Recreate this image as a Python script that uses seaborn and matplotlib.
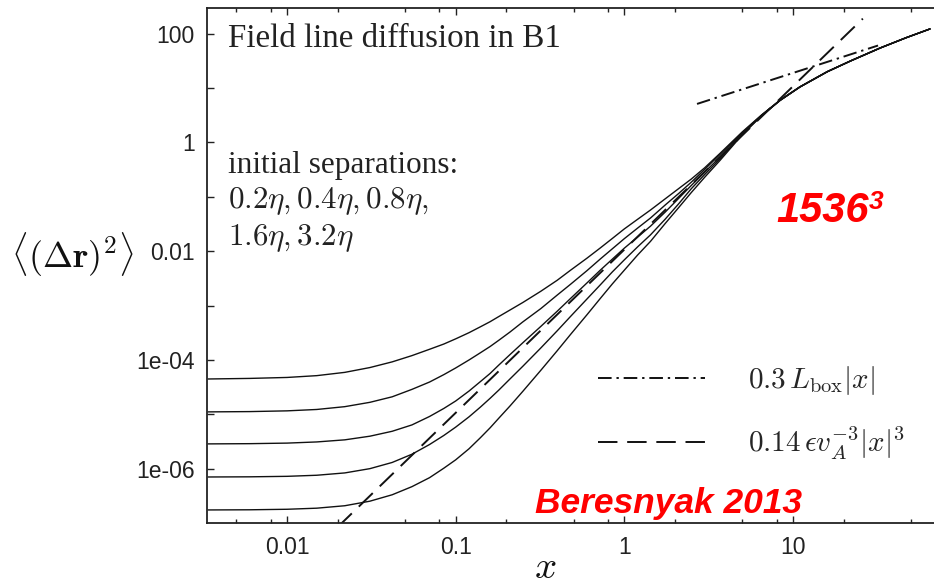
import matplotlib
matplotlib.use("Agg")
import matplotlib.pyplot as plt
from matplotlib.ticker import FixedLocator, FixedFormatter, LogLocator, NullLocator, NullFormatter
import pandas as pd
import seaborn as sns

# distance along the mean field, shared by every separation curve
x_vals = [0.0034, 0.006, 0.01, 0.015, 0.022, 0.031, 0.042, 0.055, 0.07, 0.085,
          0.1, 0.12, 0.14, 0.16, 0.18, 0.21, 0.25, 0.32, 0.4, 0.48,
          0.6, 0.72, 0.85, 1.0, 1.2, 1.43, 1.75, 2.1, 2.5, 3.0,
          3.7, 5.0, 6.5, 8.4, 11, 16, 22, 33, 47, 65]

# mean squared separation for each initial separation
msd_3p2 = [4.48e-5, 4.59e-5, 4.78e-5, 5.16e-5, 5.93e-5, 7.27e-5, 9.24e-5, 1.204e-4, 1.575e-4, 1.965e-4,
           2.448e-4, 3.18e-4, 4.07e-4, 5.06e-4, 6.28e-4, 8.3e-4, 1.139e-3, 1.837e-3, 2.92e-3, 4.47e-3,
           7.42e-3, 1.145e-2, 1.717e-2, 2.565e-2, 3.86e-2, 5.71e-2, 9.19e-2, 0.1411, 0.2125, 0.342,
           0.630, 1.55, 3.17, 6.0, 10.5, 20.0, 31.5, 54.5, 84.0, 121.5]
msd_1p6 = [1.113e-5, 1.127e-5, 1.163e-5, 1.233e-5, 1.389e-5, 1.669e-5, 2.107e-5, 2.885e-5, 3.94e-5, 5.38e-5,
           7.14e-5, 1.002e-4, 1.356e-4, 1.77e-4, 2.30e-4, 3.27e-4, 5.01e-4, 8.82e-4, 1.56e-3, 2.466e-3,
           4.376e-3, 7.17e-3, 1.109e-2, 1.698e-2, 2.66e-2, 4.07e-2, 7.08e-2, 0.1148, 0.1862, 0.32,
           0.60, 1.50, 3.12, 5.97, 10.45, 19.95, 31.45, 54.45, 84.0, 121.5]
msd_0p8 = [2.873e-6, 2.90e-6, 2.97e-6, 3.12e-6, 3.41e-6, 3.98e-6, 4.90e-6, 6.41e-6, 9.17e-6, 1.286e-5,
           1.765e-5, 2.69e-5, 4.0e-5, 5.66e-5, 8.05e-5, 1.259e-4, 2.07e-4, 4.15e-4, 7.88e-4, 1.352e-3,
           2.60e-3, 4.47e-3, 7.16e-3, 1.135e-2, 1.82e-2, 2.88e-2, 5.25e-2, 9.33e-2, 0.162, 0.285,
           0.537, 1.46, 3.10, 5.95, 10.42, 19.9, 31.4, 54.4, 84.0, 121.5]
msd_0p4 = [7.08e-7, 7.13e-7, 7.28e-7, 7.62e-7, 8.41e-7, 1.008e-6, 1.309e-6, 1.854e-6, 2.80e-6, 4.10e-6,
           5.84e-6, 9.03e-6, 1.359e-5, 1.976e-5, 2.79e-5, 4.49e-5, 7.66e-5, 1.667e-4, 3.44e-4, 6.32e-4,
           1.318e-3, 2.40e-3, 4.17e-3, 6.92e-3, 1.202e-2, 1.995e-2, 3.89e-2, 7.41e-2, 0.1413, 0.257,
           0.501, 1.41, 3.08, 5.92, 10.4, 19.9, 31.4, 54.4, 84.0, 121.5]
msd_0p2 = [1.755e-7, 1.767e-7, 1.806e-7, 1.891e-7, 2.097e-7, 2.544e-7, 3.335e-7, 4.70e-7, 6.88e-7, 1.026e-6,
           1.463e-6, 2.338e-6, 3.72e-6, 5.67e-6, 8.49e-6, 1.43e-5, 2.65e-5, 6.48e-5, 1.479e-4, 2.95e-4,
           6.76e-4, 1.349e-3, 2.51e-3, 4.47e-3, 8.51e-3, 1.514e-2, 3.24e-2, 6.31e-2, 0.1202, 0.229,
           0.468, 1.37, 3.05, 5.9, 10.4, 19.9, 31.4, 54.4, 84.0, 121.5]
separations = ["3.2", "1.6", "0.8", "0.4", "0.2"]

# reference power laws (end points)
richardson_x = [0.02, 26.0]
richardson_y = [8.56e-8, 188.0]
diffusive_x = [2.7, 32.0]
diffusive_y = [5.09, 60.3]

x_tick_values = [0.01, 0.1, 1, 10]
x_tick_labels = ["0.01", "0.1", "1", "10"]
y_tick_values = [1e-7, 1e-6, 1e-5, 1e-4, 1e-3, 1e-2, 1e-1, 1, 10, 100]
y_tick_labels = ["", "1e-06", "", "1e-04", "", "0.01", "", "1", "", "100"]

frames = []
for name, vals in zip(separations, [msd_3p2, msd_1p6, msd_0p8, msd_0p4, msd_0p2]):
    frames.append(pd.DataFrame({"x": x_vals, "msd": vals, "sep": name}))
df = pd.concat(frames, ignore_index=True)

sns.set_theme(style="ticks")
plt.rcParams["font.family"] = ["Liberation Sans", "DejaVu Sans"]
plt.rcParams["mathtext.fontset"] = "cm"

W, H = 934, 585
fig = plt.figure(figsize=(W / 100, H / 100), dpi=100)
ax = fig.add_axes([207 / W, 62 / H, 727 / W, 515 / H])
ax.set_xscale("log")
ax.set_yscale("log")

sns.lineplot(data=df, x="x", y="msd", units="sep", estimator=None, sort=False,
             color="#111111", linewidth=1.0, ax=ax, legend=False)

h_diff, = ax.plot(diffusive_x, diffusive_y, color="#111111", linewidth=1.4,
                  linestyle=(0, (7, 2.5, 1.2, 2.5)), label=r"$0.3\,L_{\rm box}|x|$")
h_rich, = ax.plot(richardson_x, richardson_y, color="#111111", linewidth=1.4,
                  linestyle=(0, (10, 5)), label=r"$0.14\,\epsilon v_A^{-3}|x|^3$")

ax.set_xlim(0.00335, 68.7)
ax.set_ylim(1.01e-7, 295)

ax.xaxis.set_major_locator(FixedLocator(x_tick_values))
ax.xaxis.set_major_formatter(FixedFormatter(x_tick_labels))
ax.xaxis.set_minor_locator(LogLocator(base=10, subs=(2, 5, 8), numticks=20))
ax.xaxis.set_minor_formatter(NullFormatter())
ax.yaxis.set_major_locator(FixedLocator(y_tick_values))
ax.yaxis.set_major_formatter(FixedFormatter(y_tick_labels))
ax.yaxis.set_minor_locator(NullLocator())

ax.tick_params(which="both", direction="in", top=True, right=False, colors="#222222",
               labelsize=16.5, width=1.0)
ax.tick_params(which="major", length=5, pad=9)
ax.tick_params(which="minor", length=3)
for side in ["left", "bottom", "top"]:
    ax.spines[side].set_linewidth(1.3)
    ax.spines[side].set_color("#222222")
ax.spines["right"].set_visible(False)

ax.set_xlabel(r"$x$", fontsize=28, color="#111111")
ax.xaxis.set_label_coords((545 - 207) / 727, (523 - 568) / 515)
ax.xaxis.label.set_va("center")
ax.set_ylabel(r"$\langle(\Delta\mathbf{r})^2\rangle$", fontsize=26, rotation=0, color="#111111")
ax.yaxis.set_label_coords((72 - 207) / 727, (523 - 255) / 515)
ax.yaxis.label.set_va("center")
ax.yaxis.label.set_ha("center")

ax.legend(handles=[h_diff, h_rich], loc="upper left",
          bbox_to_anchor=(598 / W, 1 - 364 / H), bbox_transform=fig.transFigure,
          frameon=False, fontsize=21, handlelength=3.66, handletextpad=1.47,
          labelspacing=0.95, borderpad=0, borderaxespad=0)

serif = ["Liberation Serif", "DejaVu Serif"]
fig.text(228 / W, 1 - 47 / H, "Field line diffusion in B1", fontsize=23.8,
         family=serif, color="#222222", va="baseline")
fig.text(228 / W, 1 - 173 / H, "initial separations:", fontsize=22.5,
         family=serif, color="#222222", va="baseline")
fig.text(228 / W, 1 - 208 / H, r"$0.2\eta, 0.4\eta, 0.8\eta,$", fontsize=22.3,
         color="#222222", va="baseline")
fig.text(228 / W, 1 - 245 / H, r"$1.6\eta, 3.2\eta$", fontsize=22.3,
         color="#222222", va="baseline")

red = "#ff0000"
t_res = fig.text(776 / W, 1 - 222 / H, "1536", fontsize=30,
                 family=["Liberation Sans"], fontweight="bold", fontstyle="italic",
                 color=red, va="baseline")
ax.annotate("3", xy=(1.0, 1.0), xycoords=t_res, xytext=(0, 1),
            textcoords="offset points", ha="left", va="top", fontsize=19,
            family=["Liberation Sans"], fontweight="bold", fontstyle="italic",
            color=red, annotation_clip=False)
fig.text(535 / W, 1 - 513 / H, "Beresnyak 2013", fontsize=25.5,
         family=["Liberation Sans"], fontweight="bold", fontstyle="italic",
         color=red, va="baseline")

fig.savefig("out.png", dpi=100)
